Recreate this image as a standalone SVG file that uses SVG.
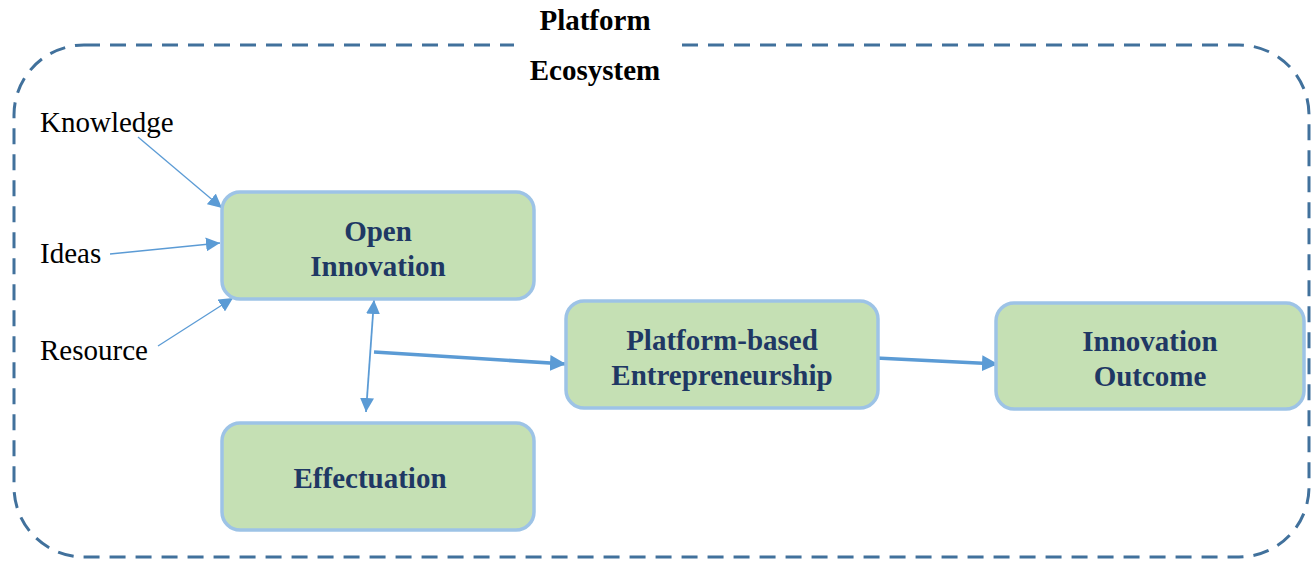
<svg xmlns="http://www.w3.org/2000/svg" width="1311" height="562" viewBox="0 0 1311 562">
<style>
.box{fill:#C5E0B4;stroke:#9DC3E6;stroke-width:3.5}
.nt{font-family:"Liberation Serif","Times New Roman",serif;font-weight:bold;font-size:29px;fill:#1F3864;text-anchor:middle}
.lab{font-family:"Liberation Serif","Times New Roman",serif;font-size:29px;fill:#000}
.title{font-family:"Liberation Serif","Times New Roman",serif;font-weight:bold;font-size:29px;fill:#000;text-anchor:middle}
.thin{stroke:#5B9BD5;stroke-width:1.3;fill:none}
.thick{stroke:#5B9BD5;stroke-width:3.5;fill:none}
</style>
<defs>
<marker id="ah" viewBox="0 0 10 10" refX="10" refY="5" markerWidth="14" markerHeight="14" markerUnits="userSpaceOnUse" orient="auto-start-reverse">
<path d="M0,0 L10,5 L0,10 z" fill="#5B9BD5"/>
</marker>
<marker id="ah2" viewBox="0 0 10 10" refX="10" refY="5" markerWidth="16" markerHeight="16" markerUnits="userSpaceOnUse" orient="auto">
<path d="M0,0 L10,5 L0,10 z" fill="#5B9BD5"/>
</marker>
</defs>
<g id="container">
<rect x="14" y="45" width="1295" height="512" rx="70" ry="70" fill="none" stroke="#41719C" stroke-width="3" stroke-dasharray="16 10"/>
<rect x="514" y="38" width="166" height="14" fill="#fff"/>
<text class="title" x="595" y="30">Platform</text>
<text class="title" x="595" y="80">Ecosystem</text>
</g>
<g id="labels">
<text class="lab" x="40" y="132">Knowledge</text>
<text class="lab" x="40" y="263">Ideas</text>
<text class="lab" x="40" y="360">Resource</text>
</g>
<g id="connectors">
<line class="thin" x1="138" y1="137" x2="222" y2="208" marker-end="url(#ah)"/>
<line class="thin" x1="110" y1="254" x2="220" y2="243" marker-end="url(#ah)"/>
<line class="thin" x1="158" y1="346" x2="233" y2="298" marker-end="url(#ah)"/>
<line class="thin" style="stroke-width:1.8" x1="374" y1="300" x2="366" y2="412" marker-start="url(#ah)" marker-end="url(#ah)"/>
<line class="thick" x1="374" y1="352" x2="566" y2="364" marker-end="url(#ah2)"/>
<line class="thick" x1="876" y1="358" x2="998" y2="364" marker-end="url(#ah2)"/>
</g>
<g id="open-innovation">
<rect class="box" x="222" y="192" width="312" height="107" rx="18"/>
<text class="nt" x="378" y="241">Open</text>
<text class="nt" x="378" y="276">Innovation</text>
</g>
<g id="effectuation">
<rect class="box" x="222" y="423" width="312" height="107" rx="18"/>
<text class="nt" x="370" y="488">Effectuation</text>
</g>
<g id="platform-entrepreneurship">
<rect class="box" x="566" y="301" width="312" height="107" rx="18"/>
<text class="nt" x="722" y="350">Platform-based</text>
<text class="nt" x="722" y="385">Entrepreneurship</text>
</g>
<g id="innovation-outcome">
<rect class="box" x="996" y="303" width="308" height="106" rx="18"/>
<text class="nt" x="1150" y="351">Innovation</text>
<text class="nt" x="1150" y="386">Outcome</text>
</g>
</svg>
